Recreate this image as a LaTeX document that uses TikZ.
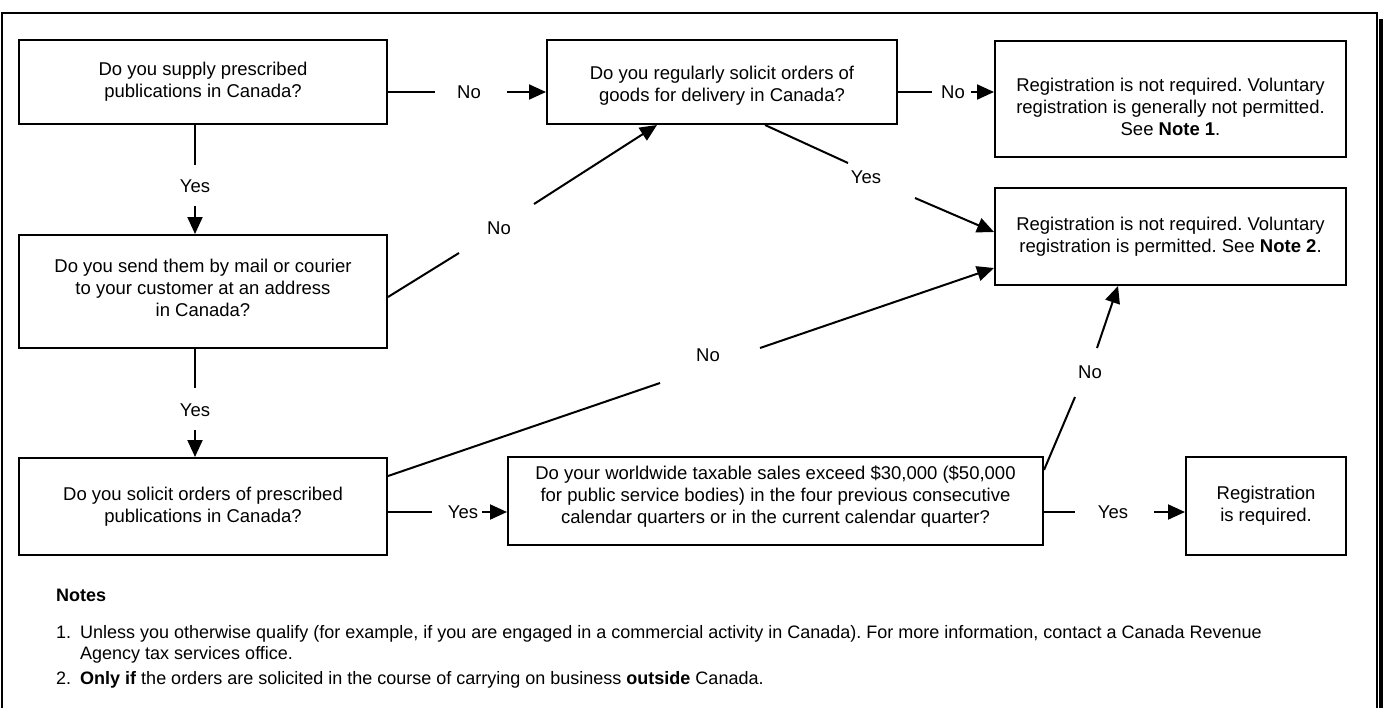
\documentclass[tikz,border=0pt]{standalone}
\usepackage{fontspec}
\setmainfont{Liberation Sans}
\usetikzlibrary{arrows.meta}
\frenchspacing
\begin{document}
\begin{tikzpicture}[x=1pt,y=-1pt,
  box/.style={draw,line width=2pt,inner sep=0pt},
  txt/.style={align=center,inner sep=0pt,font=\fontsize{18.5}{22}\selectfont},
  lbl/.style={font=\fontsize{18.5}{22}\selectfont,inner sep=0pt},
  conn/.style={line width=2pt},
  arr/.style={line width=2pt,-{Triangle[length=17pt,width=15pt]}},
  note/.style={font=\fontsize{18}{21}\selectfont,inner sep=0pt,anchor=base west}]
\useasboundingbox (0,0) rectangle (1383,707);
% frame
\draw[line width=2pt] (2,720) -- (2,13) -- (1377,13) -- (1377,720);
\fill (1379,19) rectangle (1384,720);
% boxes
\node[box,minimum width=368pt,minimum height=84pt] (A) at (203,82) {};
\node[txt] (At) at (A.center) {Do you supply prescribed\\publications in Canada?};
\node[box,minimum width=350pt,minimum height=84pt] (B) at (722,82) {};
\node[txt] (Bt) at ([yshift=-4pt]B.center) {Do you regularly solicit orders of\\goods for delivery in Canada?};
\node[box,minimum width=351pt,minimum height=116pt] (C) at (1170.5,99) {};
\node[txt] (Ct) at ([yshift=-8pt]C.center) {Registration is not required. Voluntary\\registration is generally not permitted.\\See \textbf{Note 1}.};
\node[box,minimum width=351pt,minimum height=97pt] (E) at (1170.5,236.5) {};
\node[txt] (Et) at (E.center) {Registration is not required. Voluntary\\registration is permitted. See \textbf{Note 2}.};
\node[box,minimum width=368pt,minimum height=113pt] (D) at (203,291.5) {};
\node[txt] (Dt) at ([yshift=4pt]D.center) {Do you send them by mail or courier\\to your customer at an address\\in Canada?};
\node[box,minimum width=368pt,minimum height=97pt] (F) at (203,506.5) {};
\node[txt] (Ft) at (F.center) {Do you solicit orders of prescribed\\publications in Canada?};
\node[box,minimum width=535pt,minimum height=88pt] (G) at (775.5,501) {};
\node[txt] (Gt) at ([yshift=4pt]G.center) {Do your worldwide taxable sales exceed \$30,000 (\$50,000\\for public service bodies) in the four previous consecutive\\calendar quarters or in the current calendar quarter?};
\node[box,minimum width=160pt,minimum height=98pt] (H) at (1266,506) {};
\node[txt] (Ht) at (H.center) {Registration\\is required.};
% A -> B
\coordinate (ab1) at (435,92); \coordinate (ab2) at (507,92);
\draw[conn] (A.east |- ab1) -- (ab1);
\node[lbl] (lab) at (469,92) {No};
\draw[arr] (ab2) -- (B.west |- ab2);
% B -> C
\coordinate (bc1) at (932,92); \coordinate (bc2) at (971,92);
\draw[conn] (B.east |- bc1) -- (bc1);
\node[lbl] (lbc) at (953,92) {No};
\draw[arr] (bc2) -- (C.west |- bc2);
% A -> D
\coordinate (ad1) at (195,165); \coordinate (ad2) at (195,206);
\draw[conn] (A.south -| ad1) -- (ad1);
\node[lbl] (lad) at (195,186) {Yes};
\draw[arr] (ad2) -- (D.north -| ad2);
% D -> F
\coordinate (df1) at (195,388); \coordinate (df2) at (195,430);
\draw[conn] (D.south -| df1) -- (df1);
\node[lbl] (ldf) at (195,410) {Yes};
\draw[arr] (df2) -- (F.north -| df2);
% F -> G
\coordinate (fg1) at (432,512); \coordinate (fg2) at (482,512);
\draw[conn] (F.east |- fg1) -- (fg1);
\node[lbl] (lfg) at (463,512) {Yes};
\draw[arr] (fg2) -- (G.west |- fg2);
% G -> H
\coordinate (gh1) at (1075,512); \coordinate (gh2) at (1154,512);
\draw[conn] (G.east |- gh1) -- (gh1);
\node[lbl] (lgh) at (1113,512) {Yes};
\draw[arr] (gh2) -- (H.west |- gh2);
% D -> B
\coordinate (db0) at (0,297); \coordinate (db1) at (459,253); \coordinate (db2) at (534,204); \coordinate (db3) at (657,0);
\draw[conn] (D.east |- db0) -- (db1);
\node[lbl] (ldb) at (499,228) {No};
\draw[arr] (db2) -- (B.south -| db3);
% B -> E
\coordinate (be0) at (765,0); \coordinate (be1) at (848,163); \coordinate (be2) at (915,198); \coordinate (be3) at (0,232);
\draw[conn] (B.south -| be0) -- (be1);
\node[lbl] (lbe) at (866,177) {Yes};
\draw[arr] (be2) -- (E.west |- be3);
% F -> E
\coordinate (fe0) at (0,476); \coordinate (fe1) at (660,383); \coordinate (fe2) at (760,348); \coordinate (fe3) at (0,268);
\draw[conn] (F.east |- fe0) -- (fe1);
\node[lbl] (lfe) at (708,355) {No};
\draw[arr] (fe2) -- (E.west |- fe3);
% G -> E
\coordinate (ge0) at (0,470); \coordinate (ge1) at (1075,397); \coordinate (ge2) at (1097,348); \coordinate (ge3) at (1118,0);
\draw[conn] (G.east |- ge0) -- (ge1);
\node[lbl] (lge) at (1090,372) {No};
\draw[arr] (ge2) -- (E.south -| ge3);
% notes
\node[note,font=\fontsize{18}{21}\selectfont\bfseries] (nt) at (56,601) {Notes};
\node[note] (n1) at (56,638) {1.};
\node[note] (n1t) at (80,638) {Unless you otherwise qualify (for example, if you are engaged in a commercial activity in Canada). For more information, contact a Canada Revenue};
\node[note] (n1u) at (80,659) {Agency tax services office.};
\node[note] (n2) at (56,684) {2.};
\node[note] (n2t) at (80,684) {\textbf{Only if} the orders are solicited in the course of carrying on business \textbf{outside} Canada.};
\end{tikzpicture}
\end{document}
